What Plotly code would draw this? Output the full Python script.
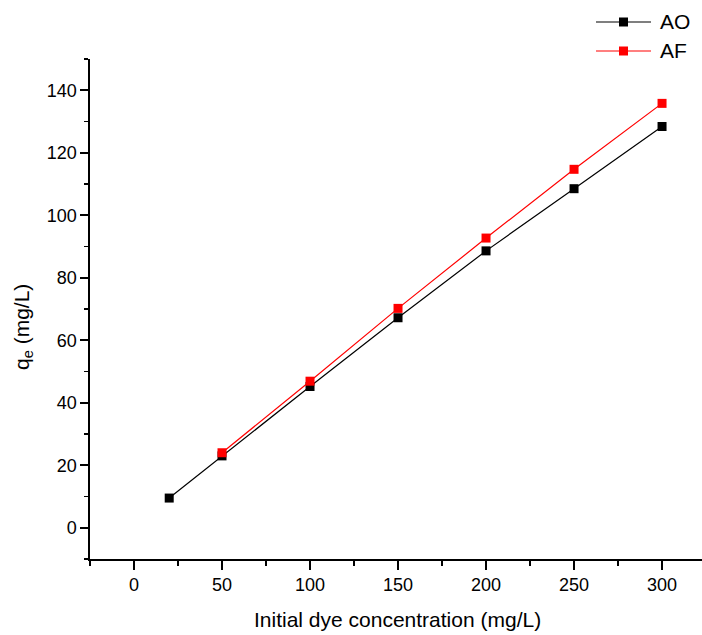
import plotly.graph_objects as go

conc_ao = [20, 50, 100, 150, 200, 250, 300]
qe_ao = [9.5, 23.0, 45.2, 67.2, 88.6, 108.5, 128.4]
conc_af = [50, 100, 150, 200, 250, 300]
qe_af = [24.0, 46.9, 70.2, 92.7, 114.7, 135.8]
series_names = ["AO", "AF"]
series_colors = ["black", "#ff0000"]

FONT = "Liberation Sans, Arial, sans-serif"
W, H = 702, 635
L, R, T, B = 90, 0, 59, 76
PW, PH = W - L - R, H - T - B


def px_x(x):  # x in screenshot pixels -> paper
    return (x - L) / PW


def px_y(y):
    return (H - B - y) / PH


fig = go.Figure()
for xs, ys, nm, col in [(conc_ao, qe_ao, series_names[0], series_colors[0]),
                        (conc_af, qe_af, series_names[1], series_colors[1])]:
    fig.add_trace(go.Scatter(x=xs, y=ys, mode="lines+markers", name=nm,
                             line=dict(color=col, width=1.2),
                             marker=dict(symbol="square", size=9, color=col),
                             showlegend=False, hoverinfo="skip"))

shapes = []
annotations = []
# manual legend (outside plot area, above)
for i, (nm, col) in enumerate(zip(series_names, series_colors)):
    yc = 22 + i * 29
    shapes.append(dict(type="line", xref="paper", yref="paper",
                       x0=px_x(596), x1=px_x(651), y0=px_y(yc), y1=px_y(yc),
                       line=dict(color=col, width=1.2)))
    shapes.append(dict(type="rect", xref="paper", yref="paper",
                       x0=px_x(619), x1=px_x(628), y0=px_y(yc - 4.5), y1=px_y(yc + 4.5),
                       line=dict(width=0), fillcolor=col))
    annotations.append(dict(text=nm, x=px_x(658), y=px_y(yc), xref="paper", yref="paper",
                            xanchor="left", yanchor="middle", showarrow=False,
                            font=dict(size=21, family=FONT, color="black")))

annotations.append(dict(text="q<sub>e</sub> (mg/L)", x=px_x(23), y=px_y(327),
                        xref="paper", yref="paper", showarrow=False,
                        xanchor="center", yanchor="middle",
                        textangle=-90, font=dict(size=21, family=FONT)))
annotations.append(dict(text="Initial dye concentration (mg/L)", x=px_x(397), y=px_y(619),
                        xref="paper", yref="paper", showarrow=False,
                        xanchor="center", yanchor="middle",
                        font=dict(size=21, family=FONT)))

fig.update_layout(
    width=W, height=H,
    margin=dict(l=L, r=R, t=T, b=B, pad=0),
    paper_bgcolor="white", plot_bgcolor="white",
    font=dict(family=FONT, size=18, color="black"),
    showlegend=False,
    hovermode=False,
    xaxis=dict(range=[-25, 322.7], tickmode="array",
               tickvals=[0, 50, 100, 150, 200, 250, 300],
               automargin=False,
               showgrid=False, zeroline=False, showline=True,
               linecolor="black", linewidth=1.6,
               ticks="outside", ticklen=9, tickwidth=1.6, tickcolor="black",
               minor=dict(ticks="outside", ticklen=5, tickwidth=1.4,
                          tickcolor="black", dtick=25, tick0=-25, showgrid=False)),
    yaxis=dict(range=[-10, 150], tickmode="array",
               tickvals=[0, 20, 40, 60, 80, 100, 120, 140],
               automargin=False,
               showgrid=False, zeroline=False, showline=True,
               linecolor="black", linewidth=1.6,
               ticks="outside", ticklen=8, tickwidth=1.6, tickcolor="black",
               minor=dict(ticks="outside", ticklen=4, tickwidth=1.4,
                          tickcolor="black", dtick=10, tick0=-10, showgrid=False)),
    shapes=shapes,
    annotations=annotations,
)

fig.write_html("out.html",
               config={"displayModeBar": False, "staticPlot": True},
               post_script="document.body.style.margin='0';document.body.style.overflow='hidden';")
